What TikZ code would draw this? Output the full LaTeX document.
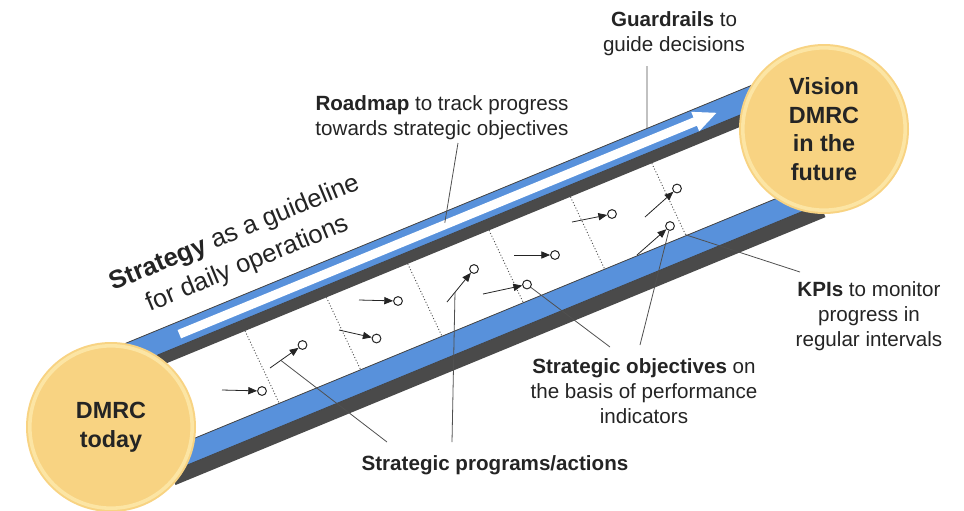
\documentclass[tikz,border=0pt]{standalone}
\usepackage{fontspec}
\setmainfont{Liberation Sans}
\usetikzlibrary{arrows.meta}

\definecolor{railblue}{HTML}{5891DB}
\definecolor{railside}{HTML}{4A4A4A}
\definecolor{goal}{HTML}{F8D382}
\definecolor{goalrim}{HTML}{FCE5A4}
\definecolor{ink}{HTML}{242424}
\definecolor{leadgray}{HTML}{505050}

\tikzset{
  note/.style={align=center, text=ink, inner sep=0pt, font=\fontsize{10.3}{12.5}\selectfont},
  goalnode/.style={circle, fill=goal, minimum size=85pt, inner sep=0pt, align=center, text=ink,
    font=\fontsize{11.7}{14.3}\selectfont\bfseries,
    path picture={\draw[goalrim, line width=1.8pt] (path picture bounding box.center) circle[radius=40.6pt];}},
  ms/.style={circle, draw=ink, fill=white, line width=0.5pt, inner sep=0pt, minimum size=4.4pt},
  push/.style={-{Triangle[length=4.4pt,width=3.6pt]}, line width=0.4pt, ink},
  lead/.style={leadgray, line width=0.4pt},
  gate/.style={leadgray, line width=0.45pt, dash pattern=on 0.5pt off 1pt},
}

\begin{document}
\begin{tikzpicture}[x=0.5pt, y=-0.5pt]
  \useasboundingbox (0,0) rectangle (964,510);

  % the two rails, drawn along the channel
  \begin{scope}[shift={(380,238.5)}, rotate=22.4]
    \fill[railside] (-330,0) rectangle (440,34);
    \filldraw[fill=railblue, draw=ink!85, line width=0.4pt] (-330,0) rectangle (440,23);
    \fill[white] (-222,7.5) -- (336,7.5) -- (336,1.5) -- (359,12) -- (336,22.5) -- (336,16.5) -- (-222,16.5) -- cycle;
    \coordinate (roadfoot) at (66,10);
    \coordinate (guardfoot) at (288.8,0);

    \fill[railside] (-283,114) rectangle (420,150);
    \filldraw[fill=railblue, draw=ink!85, line width=0.4pt] (-283,114) rectangle (420,136);

    \foreach \s [count=\i] in {-160,-72,16,104,192,280}
      \draw[gate] (\s,34) -- (\s+4,113) coordinate (g\i);
  \end{scope}

  % actions and the objectives they hit
  \coordinate (a1) at (222,390);  \node[ms] (m1) at (262,391) {};
  \coordinate (a2) at (270,368);  \node[ms] (m2) at (302.5,345) {};
  \coordinate (a3) at (339,330);  \node[ms] (m3) at (376.5,338.5) {};
  \coordinate (a4) at (359,300);  \node[ms] (m4) at (398,301) {};
  \coordinate (a5) at (447,302);  \node[ms] (m5) at (474,269) {};
  \coordinate (a6) at (483,294);  \node[ms] (m6) at (527,284.5) {};
  \coordinate (a7) at (514,255);  \node[ms] (m7) at (555,255) {};
  \coordinate (a8) at (572,222);  \node[ms] (m8) at (612,214) {};
  \coordinate (a9) at (637,255);  \node[ms] (m9) at (670,226) {};
  \coordinate (a10) at (645,217); \node[ms] (m10) at (677,188.5) {};
  \foreach \i in {1,...,10}
    \draw[push] (a\i) -- (m\i);

  % labels
  \node[note] (guard) at (674,34) {\textbf{Guardrails} to\\guide decisions};
  \node[note] (road) at (442,117.5) {\textbf{Roadmap} to track progress\\towards strategic objectives};
  \node[note, rotate=22.4, font=\fontsize{12.8}{16.7}\selectfont] (strat) at (241,249)
    {\textbf{Strategy} as a guideline\\for daily operations};
  \node[note, font=\fontsize{10.3}{12.5}\selectfont\bfseries] (prog) at (495,465) {Strategic programs/actions};
  \node[note] (obj) at (644,391) {\textbf{Strategic objectives} on\\the basis of performance\\indicators};
  \node[note] (kpi) at (869,316) {\textbf{KPIs} to monitor\\progress in\\regular intervals};

  % leader lines
  \coordinate (guardtop) at (647,66);
  \coordinate (roadtop) at (458,143);
  \coordinate (progA) at (387,442);
  \coordinate (progB) at (452,442);
  \coordinate (hitA) at (281,360.5);
  \coordinate (hitB) at (455,292);
  \coordinate (objA) at (610,347);
  \coordinate (objB) at (640,345);
  \coordinate (kpitop) at (800,272);
  \draw[lead] (guardtop) -- (guardfoot);
  \draw[lead] (roadtop) -- (roadfoot);
  \draw[lead] (progA) -- (hitA);
  \draw[lead] (progB) -- (hitB);
  \draw[lead] (objA) -- (m6);
  \draw[lead] (objB) -- (m9);
  \draw[lead] (kpitop) -- (g6);

  % start and goal
  \node[goalnode] (now) at (111,427) {DMRC\\today};
  \node[goalnode] (vision) at (824,129) {Vision\\DMRC\\in the\\future};
\end{tikzpicture}
\end{document}
